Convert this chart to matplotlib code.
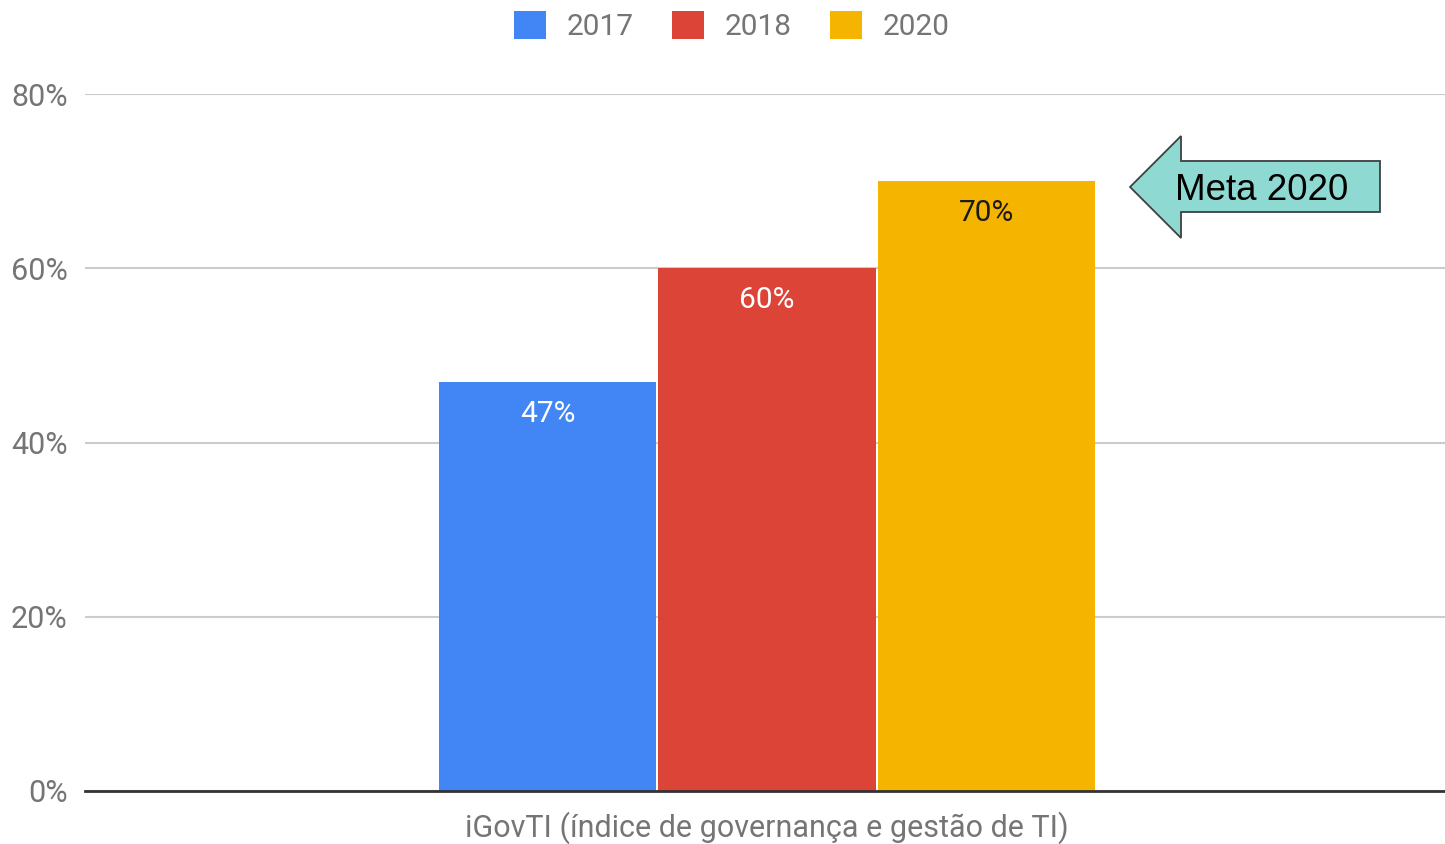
import matplotlib
matplotlib.use("Agg")
import matplotlib.pyplot as plt
from matplotlib.patches import Polygon, Patch
from matplotlib.ticker import FuncFormatter

plt.rcParams["font.family"] = ["Roboto", "DejaVu Sans"]

# iGovTI results per year
category = "iGovTI (índice de governança e gestão de TI)"
years = ["2017", "2018", "2020"]
values = [47, 60, 70]
colors = ["#4285F4", "#DB4437", "#F4B400"]
label_colors = ["white", "white", "#1a1a1a"]
y_ticks = [0, 20, 40, 60, 80]

GREY = "#757575"

fig = plt.figure(figsize=(14.45, 8.44), dpi=100)
ax = fig.add_axes([85 / 1445, 1 - 791 / 844, 1 - 85 / 1445, (791 - 94) / 844])

width = 0.16
step = 0.1614
for i, (yr, v, c, lc) in enumerate(zip(years, values, colors, label_colors)):
    x = (i - 1) * step
    ax.bar(x, v, width=width, color=c, edgecolor="none", zorder=3)
    ax.text(x, v - 3.7, f"{v}%", ha="center", va="center",
            fontsize=21.5, color=lc, zorder=4)

ax.set_xlim(-0.5015, 0.4985)
ax.set_ylim(0, 80)
ax.set_yticks(y_ticks)
ax.yaxis.set_major_formatter(FuncFormatter(lambda v, _: f"{v:.0f}%"))
ax.set_xticks([0])
ax.set_xticklabels([category])
ax.tick_params(axis="x", length=0, pad=15, labelsize=22, labelcolor=GREY)
ax.tick_params(axis="y", length=0, pad=12.5, labelsize=22, labelcolor=GREY)
ax.grid(axis="y", color="#cccccc", linewidth=1.5, zorder=0)
for side in ("top", "right", "left"):
    ax.spines[side].set_visible(False)
ax.spines["bottom"].set_color("#333333")
ax.spines["bottom"].set_linewidth(2)
ax.spines["bottom"].set_zorder(5)

# "Meta 2020" callout arrow pointing at the 2020 bar
arrow = Polygon(
    [(0.7684, 0.8666), (0.8059, 0.9397), (0.8059, 0.9039), (0.9522, 0.9039),
     (0.9522, 0.8307), (0.8059, 0.8307), (0.8059, 0.7934)],
    closed=True, transform=ax.transAxes, facecolor="#8ED9D1",
    edgecolor="#404040", linewidth=1.3, zorder=6, clip_on=False,
)
ax.add_patch(arrow)
ax.text(0.8655, 0.862, "Meta 2020", transform=ax.transAxes, ha="center",
        va="center", fontsize=26.5, family=["Liberation Sans", "DejaVu Sans"],
        color="black", zorder=7)

handles = [Patch(facecolor=c, edgecolor="none", label=yr) for yr, c in zip(years, colors)]
leg = fig.legend(handles=handles, loc="center", bbox_to_anchor=(732 / 1445, 1 - 26 / 844),
                 ncol=3, frameon=False, fontsize=21.5, handlelength=1.05, handleheight=1.05,
                 handletextpad=0.7, columnspacing=1.3)
for t in leg.get_texts():
    t.set_color(GREY)

fig.savefig("out.png", dpi=100)
